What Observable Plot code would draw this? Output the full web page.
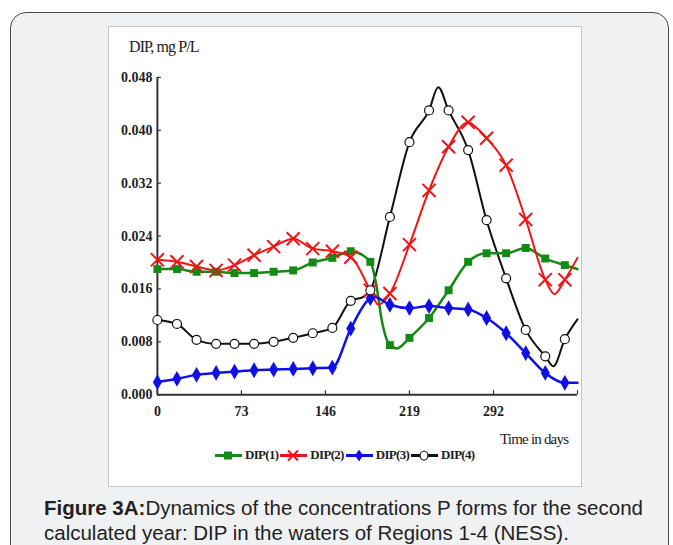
<!DOCTYPE html>
<html><head><meta charset="utf-8">
<script src="https://cdn.jsdelivr.net/npm/d3@7"></script>
<script src="https://cdn.jsdelivr.net/npm/@observablehq/plot@0.6"></script>
<style>
body{margin:0;width:673px;height:545px;background:#fff;position:relative;overflow:hidden;}
#card{position:absolute;left:10px;top:12px;width:659px;height:570px;border:1.5px solid #4a4a4a;border-radius:16px;background:#eff1f3;box-sizing:border-box;}
#box{position:absolute;left:108px;top:26px;width:474px;height:461px;background:#fff;border:1px solid #c6c6c6;box-sizing:border-box;}
#plot{position:absolute;left:-1px;top:-1px;}
.lbl{position:absolute;font-family:"Liberation Serif",serif;color:#222;white-space:nowrap;}
#ylab{left:20px;top:11px;font-size:16px;letter-spacing:-0.9px;}
#xlab{left:391px;top:404px;font-size:15px;letter-spacing:-0.8px;}
#legend{position:absolute;left:106px;top:420px;display:flex;align-items:center;font-family:"Liberation Serif",serif;font-weight:bold;font-size:13px;letter-spacing:-0.7px;color:#222;}
#legend svg{display:block;}
#caption{position:absolute;left:44px;top:495px;font-family:"Liberation Sans",Arial,sans-serif;font-size:20.5px;line-height:25px;color:#222;}
</style></head>
<body>
<div id="card"></div>
<div id="box">
  <div id="plot"></div>
  <div class="lbl" id="ylab">DIP, mg P/L</div>
  <div class="lbl" id="xlab">Time in days</div>
  <div id="legend"></div>
</div>
<div id="caption"><b>Figure 3A:</b>Dynamics of the concentrations P forms for the second<br>calculated year: DIP in the waters of Regions 1-4 (NESS).</div>
<script>
// ---- data ----
const markerDays = [0,17,34,51,67,84,101,118,135,152,168,185,202,219,236,253,270,286,303,320,337,354];
const dip1 = [0.0190,0.0190,0.0186,0.0186,0.0184,0.0184,0.0186,0.0188,0.0200,0.0207,0.0217,0.0201,0.0075,0.0086,0.0116,0.0158,0.0201,0.0214,0.0214,0.0222,0.0206,0.0196];
const dip2 = [0.0204,0.0201,0.0194,0.0188,0.0196,0.0211,0.0224,0.0236,0.0221,0.0217,0.0208,0.0158,0.0153,0.0227,0.0309,0.0375,0.0412,0.0388,0.0347,0.0265,0.0174,0.0174];
const dip3 = [0.0019,0.0024,0.0030,0.0033,0.0035,0.0037,0.0038,0.0039,0.0040,0.0041,0.0100,0.0146,0.0136,0.0131,0.0134,0.0131,0.0129,0.0116,0.0093,0.0063,0.0033,0.0018];
const dip4 = [0.0113,0.0107,0.0083,0.0077,0.0077,0.0077,0.0080,0.0086,0.0093,0.0101,0.0142,0.0158,0.0269,0.0382,0.0430,0.0430,0.0370,0.0264,0.0176,0.0098,0.0058,0.0084];
// extra (unmarked) points along the curves
const dip1ExtraDays = [190,195,208,365];
const dip1ExtraVals = [0.0168,0.0112,0.0070,0.0190];
const dip2ExtraDays = [192,277,345,365];
const dip2ExtraVals = [0.0136,0.0404,0.0152,0.0207];
const dip3ExtraDays = [188,365];
const dip3ExtraVals = [0.0148,0.0018];
const dip4ExtraDays = [179,244,344,365];
const dip4ExtraVals = [0.0148,0.0465,0.0043,0.0114];
const yTicks = [0,0.008,0.016,0.024,0.032,0.040,0.048];
const xTicks = [0,73,146,219,292];
const seriesNames = ["DIP(1)","DIP(2)","DIP(3)","DIP(4)"];

// ---- build ----
function build(vals, exD, exV){
  const pts = markerDays.map((d,i)=>({day:d, v:vals[i], m:true}))
    .concat(exD.map((d,i)=>({day:d, v:exV[i], m:false})));
  return pts.sort((a,b)=>a.day-b.day);
}
const s1 = build(dip1, dip1ExtraDays, dip1ExtraVals);
const s2 = build(dip2, dip2ExtraDays, dip2ExtraVals);
const s3 = build(dip3, dip3ExtraDays, dip3ExtraVals);
const s4 = build(dip4, dip4ExtraDays, dip4ExtraVals);
const mk = s => s.filter(d=>d.m);

const GREEN="#138a13", RED="#f01414", BLUE="#1010e6", BLACK="#111";

const chart = Plot.plot({
  width:474, height:400,
  marginLeft:49, marginRight:4, marginTop:51, marginBottom:31,
  x:{domain:[0,365]},
  y:{domain:[0,0.048]},
  style:{fontFamily:"Liberation Serif, serif", color:"#222", background:"transparent"},
  marks:[
    Plot.axisY({ticks:yTicks, tickFormat:d3.format(".3f"), tickSize:-4, tickPadding:9, label:null, stroke:"#333", strokeWidth:1.2, fontSize:14, fontWeight:"bold", letterSpacing:"-0.9px"}),
    Plot.axisX({ticks:xTicks.concat([365]), tickFormat:d=> d===365 ? "" : d, tickSize:-4, tickPadding:15, label:null, stroke:"#333", strokeWidth:1.2, fontSize:14, fontWeight:"bold", letterSpacing:"-0.9px"}),
    Plot.ruleX([0],{stroke:"#333", strokeWidth:2}),
    Plot.ruleY([0],{stroke:"#333", strokeWidth:2}),
    Plot.line(s4,{x:"day", y:"v", stroke:BLACK, strokeWidth:2, curve:"monotone-x"}),
    Plot.line(s1,{x:"day", y:"v", stroke:GREEN, strokeWidth:2.5, curve:"monotone-x"}),
    Plot.line(s2,{x:"day", y:"v", stroke:RED, strokeWidth:2, curve:"monotone-x"}),
    Plot.line(s3,{x:"day", y:"v", stroke:BLUE, strokeWidth:2.5, curve:"monotone-x"}),
    Plot.dot(mk(s1),{x:"day", y:"v", symbol:"square", r:4.5, fill:GREEN, stroke:"none"}),
    Plot.dot(mk(s2),{x:"day", y:"v", symbol:"times", r:6, stroke:RED, strokeWidth:2}),
    Plot.dot(mk(s3),{x:"day", y:"v", symbol:"diamond", r:4.8, fill:BLUE, stroke:"none"}),
    Plot.dot(mk(s4),{x:"day", y:"v", symbol:"circle", r:4.5, fill:"#fff", stroke:BLACK, strokeWidth:1.2})
  ]
});
document.getElementById("plot").appendChild(chart);

// ---- legend ----
const legendSyms = [
  {color:GREEN, sym:`<rect x="9" y="3.5" width="8" height="8" fill="${GREEN}"/>`},
  {color:RED, sym:`<path d="M8,2.5L18,12.5M18,2.5L8,12.5" stroke="${RED}" stroke-width="2"/>`},
  {color:BLUE, sym:`<path d="M13,1.5L17,7.5L13,13.5L9,7.5Z" fill="${BLUE}"/>`},
  {color:BLACK, sym:`<ellipse cx="13" cy="7.5" rx="4" ry="4.5" fill="#fff" stroke="${BLACK}" stroke-width="1.2"/>`}
];
const leg = document.getElementById("legend");
seriesNames.forEach((n,i)=>{
  const s = legendSyms[i];
  leg.insertAdjacentHTML("beforeend",
    `<svg width="27" height="15"><line x1="0" y1="7.5" x2="27" y2="7.5" stroke="${s.color}" stroke-width="3"/>${s.sym}</svg><span style="margin:0 2px 0 3px">${n}</span>`);
});
</script>
</body></html>
